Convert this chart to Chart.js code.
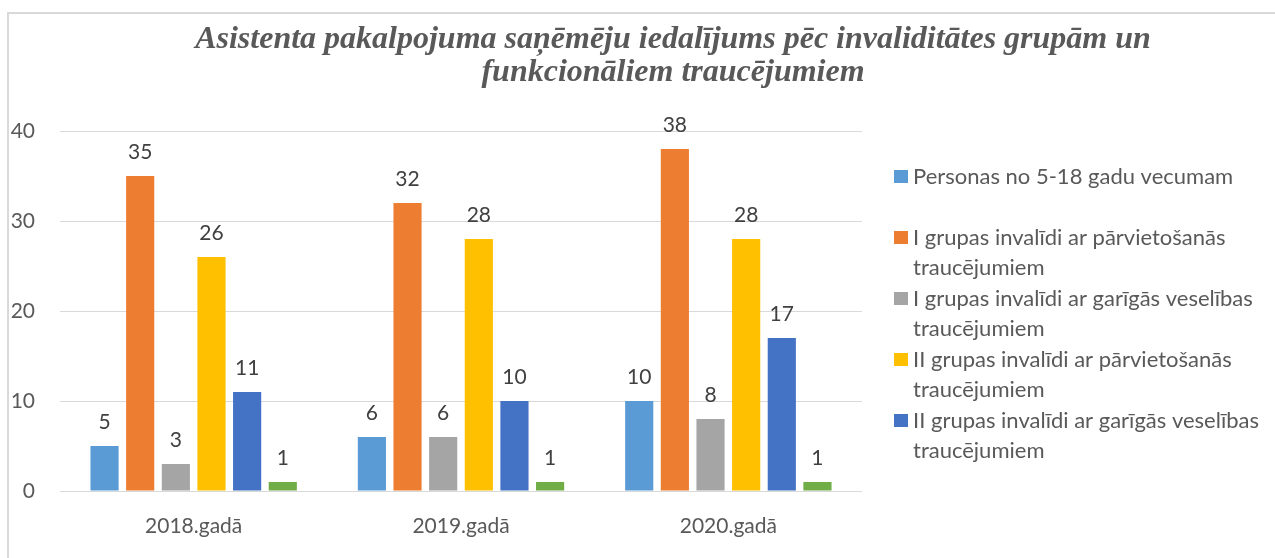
<!DOCTYPE html>
<html>
<head>
<meta charset="utf-8">
<script src="https://cdn.jsdelivr.net/npm/chart.js@4.4.1/dist/chart.umd.min.js"></script>
<style>
    html, body { margin: 0; padding: 0; background: #fff; overflow: hidden; }
    .frame {
        position: absolute; left: 7px; top: 12px;
        width: 1266px; height: 544px;
        border-top: 2px solid #d9d9d9; border-left: 2px solid #d9d9d9;
    }
    canvas { display: block; }
</style>
</head>
<body>
<div class="frame"><canvas id="chart" width="1266" height="544"></canvas></div>
<script>
const years = ['2018.gadā', '2019.gadā', '2020.gadā'];

const personas5_18 = [5, 6, 10];
const iGrupaParv = [35, 32, 38];
const iGrupaGarig = [3, 6, 8];
const iiGrupaParv = [26, 28, 28];
const iiGrupaGarig = [11, 10, 17];
const citi = [1, 1, 1];

const seriesNames = [
    ['Personas no 5-18 gadu vecumam'],
    ['I grupas invalīdi ar pārvietošanās', 'traucējumiem'],
    ['I grupas invalīdi ar garīgās veselības', 'traucējumiem'],
    ['II grupas invalīdi ar pārvietošanās', 'traucējumiem'],
    ['II grupas invalīdi ar garīgās veselības', 'traucējumiem'],
    ['']
];
const seriesColors = ['#5B9BD5', '#ED7D31', '#A5A5A5', '#FFC000', '#4472C4', '#70AD47'];

const titleLines = [
    'Asistenta pakalpojuma saņēmēju iedalījums pēc invaliditātes grupām un',
    'funkcionāliem traucējumiem'
];
const yTicks = [0, 10, 20, 30, 40];

const FONT = 'Lato, "Open Sans", sans-serif';

// title, value labels and the (clipped, 5 item) legend
const decorPlugin = {
    id: 'decor',
    afterDatasetsDraw(chart) {
        const ctx = chart.ctx;
        ctx.save();
        // value labels
        ctx.font = '21px ' + FONT;
        ctx.fillStyle = '#404040';
        ctx.textAlign = 'center';
        ctx.textBaseline = 'middle';
        chart.data.datasets.forEach((ds, i) => {
            chart.getDatasetMeta(i).data.forEach((bar, j) => {
                ctx.fillText(ds.data[j], bar.x, bar.y - 24);
            });
        });
        // title
        ctx.font = 'italic bold 32px "Liberation Serif", "Times New Roman", serif';
        ctx.fillStyle = '#595959';
        titleLines.forEach((t, k) => ctx.fillText(t, 664, 26 + k * 33));
        // legend
        ctx.font = '22px ' + FONT;
        ctx.textAlign = 'left';
        chart.data.datasets.slice(0, 5).forEach((ds, i) => {
            const cy = 163 + i * 61;
            ctx.fillStyle = ds.backgroundColor;
            ctx.fillRect(885, cy - 7, 14, 13);
            ctx.fillStyle = '#595959';
            seriesNames[i].forEach((line, k) => ctx.fillText(line, 904, cy + k * 30));
        });
        ctx.restore();
    }
};

const allData = [personas5_18, iGrupaParv, iGrupaGarig, iiGrupaParv, iiGrupaGarig, citi];

new Chart(document.getElementById('chart'), {
    type: 'bar',
    data: {
        labels: years,
        datasets: allData.map((d, i) => ({
            label: seriesNames[i].join(' '),
            data: d,
            backgroundColor: seriesColors[i],
            categoryPercentage: 0.8,
            barPercentage: 0.79
        }))
    },
    options: {
        responsive: false,
        animation: false,
        layout: { padding: { top: 117, right: 413, left: 0, bottom: 0 } },
        plugins: {
            legend: { display: false },
            title: { display: false },
            tooltip: { enabled: false }
        },
        scales: {
            x: {
                grid: { display: false },
                border: { display: false },
                ticks: { font: { family: FONT, size: 21 }, color: '#595959', padding: 15 },
                afterFit: s => { s.height = 67; }
            },
            y: {
                min: 0, max: 40,
                afterBuildTicks: s => { s.ticks = yTicks.map(v => ({ value: v })); },
                grid: { color: '#d9d9d9', lineWidth: 1, drawTicks: false },
                border: { display: false },
                ticks: { font: { family: FONT, size: 21 }, color: '#595959', padding: 25 },
                afterFit: s => { s.width = 51; }
            }
        }
    },
    plugins: [decorPlugin]
});
</script>
</body>
</html>
